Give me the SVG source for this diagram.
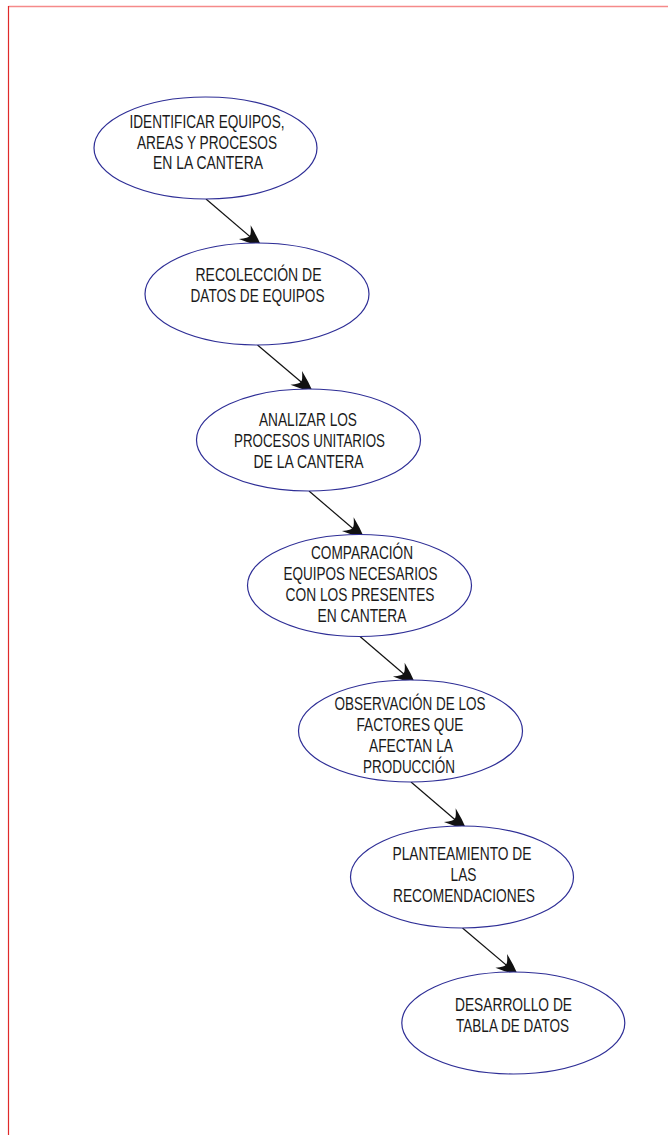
<svg xmlns="http://www.w3.org/2000/svg" width="668" height="1135" viewBox="0 0 668 1135">
  <style>
    .node ellipse { fill: #ffffff; stroke: #2e2e96; stroke-width: 1.2; }
    .node text { font-family: "Liberation Sans", Arial, sans-serif; font-size: 18.5px; fill: #1a1a1a; text-anchor: middle; }
    .edge { stroke: #111111; stroke-width: 1.2; fill: none; marker-end: url(#arrow); }
  </style>
  <defs>
    <marker id="arrow" markerUnits="userSpaceOnUse" viewBox="-24 -11 26 22" refX="0" refY="0" markerWidth="26" markerHeight="22" orient="auto">
      <path d="M0,0 Q-10,-5 -22,-9 Q-15,-2 -16,0 Q-15,2 -22,9 Q-10,5 0,0 Z" fill="#111111"/>
    </marker>
  </defs>
  <rect x="0" y="0" width="668" height="1135" fill="#ffffff"/>
  <g id="frame">
    <line x1="8.5" y1="6.5" x2="668" y2="6.5" stroke="#f58a8a" stroke-width="1.5"/>
    <line x1="8.5" y1="6" x2="8.5" y2="1135" stroke="#e02a2a" stroke-width="1.2"/>
  </g>
  <g id="connectors">
    <line class="edge" x1="206" y1="199" x2="261.5" y2="246.5"/>
    <line class="edge" x1="257.5" y1="345" x2="313" y2="392"/>
    <line class="edge" x1="309" y1="491" x2="364.5" y2="538.5"/>
    <line class="edge" x1="360" y1="636.5" x2="415.5" y2="684"/>
    <line class="edge" x1="411" y1="782" x2="466.5" y2="829.5"/>
    <line class="edge" x1="462.5" y1="928" x2="518" y2="975"/>
  </g>
  <g id="node1" class="node">
    <ellipse cx="205.5" cy="148" rx="111.5" ry="51"/>
    <text x="207" y="128" textLength="155" lengthAdjust="spacingAndGlyphs">IDENTIFICAR EQUIPOS,</text>
    <text x="207" y="148.5" textLength="140" lengthAdjust="spacingAndGlyphs">AREAS Y PROCESOS</text>
    <text x="208" y="169" textLength="110" lengthAdjust="spacingAndGlyphs">EN LA CANTERA</text>
  </g>
  <g id="node2" class="node">
    <ellipse cx="257" cy="294" rx="112" ry="51"/>
    <text x="258.5" y="281" textLength="126" lengthAdjust="spacingAndGlyphs">RECOLECCIÓN DE</text>
    <text x="257.5" y="301.5" textLength="134" lengthAdjust="spacingAndGlyphs">DATOS DE EQUIPOS</text>
  </g>
  <g id="node3" class="node">
    <ellipse cx="308.5" cy="440" rx="112" ry="51"/>
    <text x="308" y="426" textLength="98" lengthAdjust="spacingAndGlyphs">ANALIZAR LOS</text>
    <text x="309.5" y="447" textLength="151" lengthAdjust="spacingAndGlyphs">PROCESOS UNITARIOS</text>
    <text x="308.5" y="468" textLength="110" lengthAdjust="spacingAndGlyphs">DE LA CANTERA</text>
  </g>
  <g id="node4" class="node">
    <ellipse cx="359.5" cy="585.5" rx="112" ry="51"/>
    <text x="362" y="559" textLength="102" lengthAdjust="spacingAndGlyphs">COMPARACIÓN</text>
    <text x="360.5" y="580" textLength="154" lengthAdjust="spacingAndGlyphs">EQUIPOS NECESARIOS</text>
    <text x="360" y="601" textLength="149" lengthAdjust="spacingAndGlyphs">CON LOS PRESENTES</text>
    <text x="362" y="622" textLength="89" lengthAdjust="spacingAndGlyphs">EN CANTERA</text>
  </g>
  <g id="node5" class="node">
    <ellipse cx="410.5" cy="731" rx="112" ry="51"/>
    <text x="410" y="709.5" textLength="151" lengthAdjust="spacingAndGlyphs">OBSERVACIÓN DE LOS</text>
    <text x="410" y="731" textLength="107" lengthAdjust="spacingAndGlyphs">FACTORES QUE</text>
    <text x="411" y="752" textLength="84" lengthAdjust="spacingAndGlyphs">AFECTAN LA</text>
    <text x="409" y="773" textLength="92" lengthAdjust="spacingAndGlyphs">PRODUCCIÓN</text>
  </g>
  <g id="node6" class="node">
    <ellipse cx="462" cy="877" rx="111.5" ry="51"/>
    <text x="462" y="860" textLength="139" lengthAdjust="spacingAndGlyphs">PLANTEAMIENTO DE</text>
    <text x="463.5" y="881" textLength="26" lengthAdjust="spacingAndGlyphs">LAS</text>
    <text x="464" y="902" textLength="142" lengthAdjust="spacingAndGlyphs">RECOMENDACIONES</text>
  </g>
  <g id="node7" class="node">
    <ellipse cx="513.3" cy="1023" rx="111.5" ry="51"/>
    <text x="513.5" y="1010.5" textLength="117" lengthAdjust="spacingAndGlyphs">DESARROLLO DE</text>
    <text x="512.5" y="1031.5" textLength="113" lengthAdjust="spacingAndGlyphs">TABLA DE DATOS</text>
  </g>
</svg>
